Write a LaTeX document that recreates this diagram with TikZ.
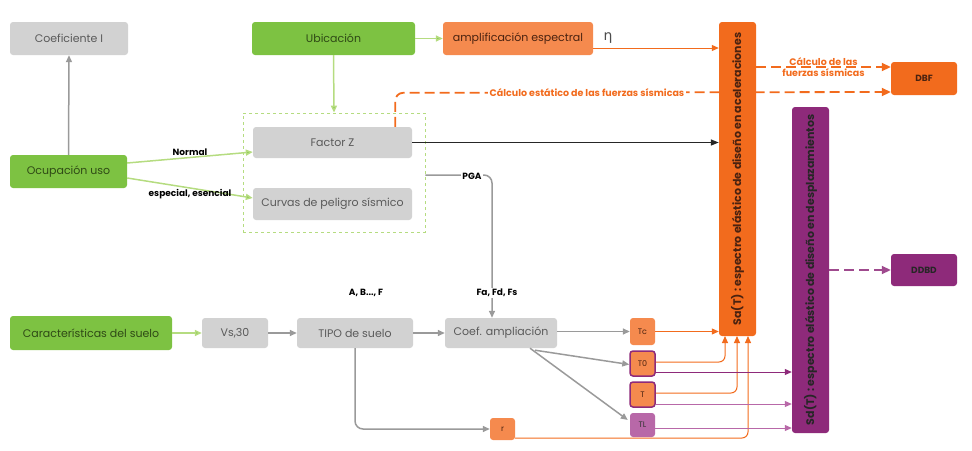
\documentclass[tikz,border=0pt]{standalone}
\usepackage{fontspec}
\setmainfont{Poppins}
\newfontfamily\symfont{DejaVu Sans}
\usetikzlibrary{arrows.meta,positioning}
\definecolor{grn}{HTML}{7DC242}
\definecolor{grnlt}{HTML}{B5DC80}
\definecolor{gbox}{HTML}{D2D2D2}
\definecolor{gline}{HTML}{9A9A9A}
\definecolor{org}{HTML}{F26B1D}
\definecolor{orglt}{HTML}{F58A4E}
\definecolor{prp}{HTML}{8E2A7A}
\definecolor{prplt}{HTML}{B868A8}
\definecolor{gtext}{HTML}{5A5A5A}
\definecolor{grtext}{HTML}{2F4A16}
\definecolor{otext}{HTML}{4A2210}
\tikzset{
  box/.style={rounded corners=3pt, inner sep=0pt, font=\fontsize{11}{12}\selectfont},
  graybox/.style={box, fill=gbox, text=gtext},
  greenbox/.style={box, fill=grn, text=grtext},
  orangebox/.style={box, fill=org, text=otext},
  smallbox/.style={box, minimum width=25pt, font=\fontsize{8}{9}\selectfont},
  bartext/.style={font=\fontsize{11}{12}\selectfont\bfseries, rotate=90},
  garrow/.style={draw=gline, line width=1.5pt, -{Triangle[length=7pt,width=6pt]}},
  grarrow/.style={draw=grnlt, line width=1.5pt, -{Triangle[length=7pt,width=6pt,fill=grn]}},
  oarrow/.style={draw=org, line width=1pt, -{Triangle[length=7pt,width=6pt]}},
  parrow/.style={draw=prp, line width=1pt, -{Triangle[length=7pt,width=6pt]}},
  lbl/.style={font=\fontsize{9}{10}\selectfont\bfseries, text=black, inner sep=1pt},
  olbl/.style={font=\fontsize{9.5}{10}\selectfont\bfseries, text=org},
}
\begin{document}
\begin{tikzpicture}[x=1pt,y=-1pt]
\useasboundingbox (0,0) rectangle (972,450);
% container
\node[draw=grnlt, dashed, line width=0.8pt, minimum width=182pt, minimum height=119pt, inner sep=0pt] (cont) at (334,172.5) {};
% nodes
\node[graybox, minimum width=118pt, minimum height=33pt] (coefI) at (69,38.5) {Coeficiente I};
\node[greenbox, minimum width=117pt, minimum height=33pt] (ocup) at (68.5,171.5) {Ocupación uso};
\node[greenbox, minimum width=163pt, minimum height=33pt] (ubic) at (333.5,38.5) {Ubicación};
\node[box, fill=orglt, text=otext, minimum width=150pt, minimum height=33pt] (ampl) at (518,38.5) {amplificación espectral};
\node[graybox, minimum width=159pt, minimum height=31pt] (facz) at (332.5,142.5) {Factor Z};
\node[graybox, minimum width=159pt, minimum height=32pt] (curv) at (332.5,204) {Curvas de peligro sísmico};
\node[box, fill=prp, minimum width=37pt, minimum height=326pt] (purp) at (810.5,270) {};
\node[bartext, text=black!85] at (purp.center) {Sd(T) : espectro elástico de diseño en desplazamientos};
\node[orangebox, minimum width=66pt, minimum height=33pt, font=\fontsize{9}{10}\selectfont\bfseries] (dbf) at (924,78.5) {DBF};
\node[box, fill=prp, text=black!85, minimum width=66pt, minimum height=32pt, font=\fontsize{9}{10}\selectfont\bfseries] (ddbd) at (924,270) {DDBD};
\node[greenbox, minimum width=162pt, minimum height=34pt] (suelo) at (91,333) {Características del suelo};
\node[graybox, minimum width=66pt, minimum height=30pt] (vs) at (235,333) {Vs,30};
\node[graybox, minimum width=116pt, minimum height=30pt] (tipo) at (355,333) {TIPO de suelo};
\node[graybox, minimum width=112pt, minimum height=30pt] (coef) at (501,333) {Coef. ampliación};
\node[smallbox, fill=orglt, text=otext, minimum height=27pt] (tc) at (642.5,331.5) {Tc};
\node[smallbox, fill=orglt, text=otext, draw=prp, line width=1.5pt, minimum height=25pt] (t0) at (642.5,363.5) {T0};
\node[smallbox, fill=orglt, text=otext, draw=prp, line width=1.5pt, minimum height=25pt] (tt) at (642.5,394.5) {T};
\node[smallbox, fill=prplt, text=black!80, minimum height=24pt] (tl) at (642.5,425) {TL};
\node[smallbox, fill=orglt, text=otext, minimum height=22pt] (rr) at (502.5,429) {r};
% dashed orange to DBF, passing behind the bar
\draw[draw=org, line width=1.8pt, dash pattern=on 10pt off 5pt, rounded corners=8pt, -{Triangle[length=9pt,width=8pt]}] ([xshift=-17pt]facz.north east) -- ++(0,-34) -- (dbf.west |- 0,92);
\node[olbl, fill=white, inner sep=1.5pt] (lblcalc) at (587,93) {Cálculo estático de las fuerzas sísmicas};
% big orange bar
\node[orangebox, minimum width=37pt, minimum height=314pt] (bigo) at (737.5,179) {};
\node[bartext, text=otext] at (bigo.center) {Sa(T) : espectro elástico de diseño en aceleraciones};
% connectors
\draw[garrow] (ocup.north) -- (coefI.south);
\draw[grarrow] (ubic.east) -- (ampl.west);
\draw[grarrow] (ubic.south) -- (cont.north);
\draw[grarrow] ([yshift=8.5pt]ocup.east) -- node[lbl, above, pos=0.5] {Normal} ([yshift=-9.5pt]facz.west);
\draw[grarrow] ([yshift=-6.5pt]ocup.east) -- node[lbl, below, pos=0.5] {especial, esencial} ([yshift=6pt]curv.west);
\draw[draw=black!85, line width=1.3pt, -{Triangle[length=8pt,width=6pt]}] (facz.east) -- (facz.east -| bigo.west);
\draw[oarrow] (ampl.east |- 0,48) -- (bigo.west |- 0,48);
\node[font=\symfont\fontsize{14}{15}\selectfont, text=black!70] (eta) at (608,38) {η};
\draw[draw=org, line width=1.8pt, dash pattern=on 10pt off 5pt, -{Triangle[length=9pt,width=8pt]}] (bigo.east |- 0,67) -- node[olbl, align=center, inner sep=0pt] {Cálculo de las\\[1pt]fuerzas sísmicas} (dbf.west |- 0,67);
\draw[draw=prp!85, line width=1.8pt, dash pattern=on 10pt off 5pt, -{Triangle[length=9pt,width=8pt]}] (purp.east |- ddbd.west) -- (ddbd.west);
% PGA
\coordinate (pgaturn) at (492,175);
\draw[draw=gline, line width=1.5pt, rounded corners=8pt, -{Triangle[length=7pt,width=6pt]}] (cont.east |- pgaturn) -- (pgaturn) -- (pgaturn |- coef.north);
\node[lbl, fill=white] at (472,176) {PGA};
\node[lbl, fill=white] at (497,293) {Fa, Fd, Fs};
\node[lbl] at (366,293) {A, B..., F};
% soil chain
\draw[grarrow] (suelo.east) -- (vs.west);
\draw[garrow] (vs.east) -- (tipo.west);
\draw[garrow] (tipo.east) -- (coef.west);
\draw[garrow] (coef.east |- tc.west) -- (tc.west);
\draw[garrow] ([xshift=34pt,yshift=-2pt]coef.south) -- ([yshift=-1pt]t0.west);
\draw[garrow] ([xshift=29pt]coef.south) -- ([xshift=-2pt,yshift=5pt]tl.west);
\draw[garrow, rounded corners=8pt] (tipo.south) -- (tipo.south |- rr.west) -- (rr.west);
% orange to bar
\draw[oarrow] (tc.east) -- (tc.east -| bigo.west);
\draw[oarrow, rounded corners=6pt] ([yshift=1.5pt]t0.east) -- (725,362) -- (725,336);
\draw[oarrow, rounded corners=6pt] ([yshift=1.5pt]tt.east) -- (737,393) -- (737,336);
\draw[oarrow, rounded corners=6pt] ([yshift=-9pt]rr.east) -- (748,438) -- (748,336);
% purple to purple bar
\draw[parrow] ([yshift=-8.5pt]t0.east) -- ([yshift=-8.5pt]t0.east -| purp.west);
\draw[parrow, draw=prplt] ([yshift=-9.5pt]tt.east) -- ([yshift=-9.5pt]tt.east -| purp.west);
\draw[parrow, draw=prplt] ([yshift=-3pt]tl.east) -- ([yshift=-3pt]tl.east -| purp.west);
\end{tikzpicture}
\end{document}
